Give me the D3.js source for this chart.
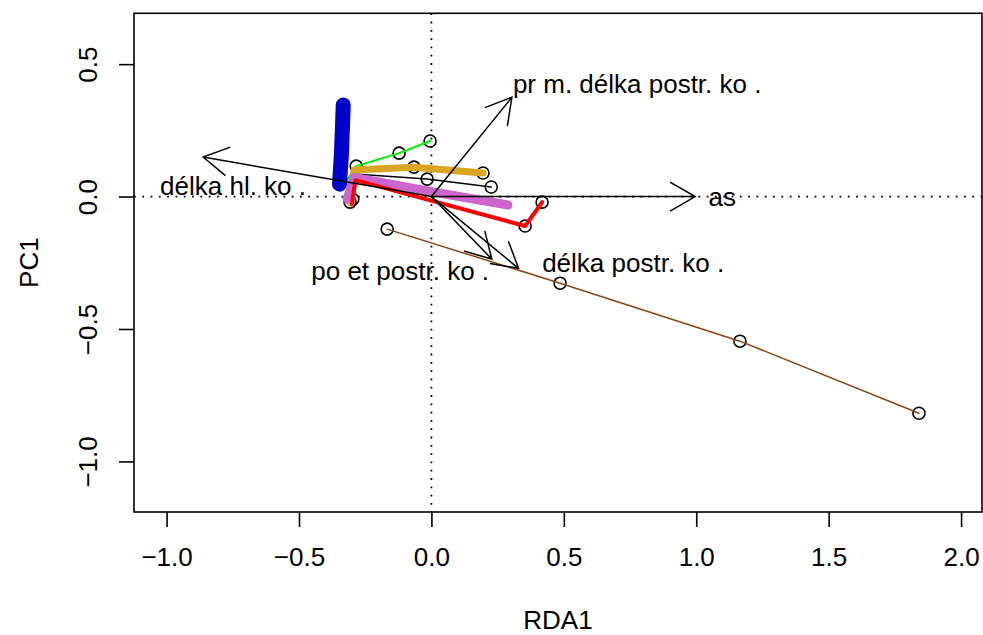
<!DOCTYPE html>
<html>
<head>
<meta charset="utf-8">
<script src="https://cdn.jsdelivr.net/npm/d3@7"></script>
<style>
  html, body { margin: 0; padding: 0; background: #fff; }
  svg { display: block; font-family: "Liberation Sans", Arial, Helvetica, sans-serif; }
</style>
</head>
<body>
<svg id="chart" width="983" height="635"></svg>
<script>
// Axis ticks
const xTicks = [-1.0, -0.5, 0.0, 0.5, 1.0, 1.5, 2.0];
const yTicks = [-1.0, -0.5, 0.0, 0.5];

// Site scores (open circles)
const sites = [
  [-0.167, -0.123], [0.486, -0.327], [1.165, -0.546], [1.841, -0.818],
  [-0.284, 0.115], [-0.122, 0.164], [-0.005, 0.210],
  [-0.066, 0.111], [0.195, 0.089],
  [-0.016, 0.066], [0.226, 0.036],
  [0.354, -0.111], [0.418, -0.021],
  [-0.307, -0.021], [-0.297, -0.010]
];

// Trajectories
const trajBrown  = [[-0.167, -0.123], [0.486, -0.327], [1.165, -0.546], [1.841, -0.818]];
const trajGreen  = [[-0.341, 0.028], [-0.284, 0.115], [-0.122, 0.164], [-0.005, 0.210]];
const trajBlack  = [[-0.307, -0.021], [-0.292, 0.085], [-0.016, 0.066], [0.226, 0.036]];
const trajGold   = [[-0.304, -0.025], [-0.292, 0.100], [-0.066, 0.111], [0.195, 0.089]];
const trajPurple = [[-0.318, -0.009], [-0.292, 0.072], [-0.005, 0.019], [0.289, -0.032]];
const trajRed    = [[-0.300, -0.028], [-0.287, 0.062], [0.354, -0.111], [0.418, -0.021]];
const trajBlue   = [[-0.333, 0.346], [-0.336, 0.259], [-0.340, 0.157], [-0.347, 0.047]];

const trajectories = [
  { pts: trajBrown,  color: "#8B4513", width: 1.5 },
  { pts: trajGreen,  color: "#00EE00", width: 2 },
  { pts: trajBlack,  color: "#000000", width: 1.5 },
  { pts: trajGold,   color: "#DAA520", width: 7 },
  { pts: trajPurple, color: "#CC66CC", width: 9 },
  { pts: trajRed,    color: "#FF0000", width: 4 },
  { pts: trajBlue,   color: "#0000CC", width: 15 }
];

// Biplot arrows (variable scores) and their label positions
const arrowNames = ["pr m. délka postr. ko .", "délka hl. ko .", "as", "po et postr. ko .", "délka postr. ko ."];
const arrowEnds  = [[0.304, 0.375], [-0.862, 0.149], [0.996, 0.0], [0.228, -0.236], [0.329, -0.271]];
const labelPos   = [[0.777, 0.425], [-0.749, 0.043], [1.098, 0.0], [-0.118, -0.281], [0.762, -0.251]];

const svg = d3.select("#chart");
const pLeft = 134, pRight = 982, pTop = 13.3, pBottom = 512;
const fs = 26;

const x = d3.scaleLinear().domain([-1.123, 2.079]).range([pLeft, pRight]);
const y = d3.scaleLinear().domain([-1.191, 0.692]).range([pBottom, pTop]);

const plot = svg.append("g");
plot.append("clipPath").attr("id", "clip")
  .append("rect").attr("x", pLeft).attr("y", pTop).attr("width", pRight - pLeft).attr("height", pBottom - pTop);
const inner = plot.append("g").attr("clip-path", "url(#clip)");

// Dotted reference lines through the origin
inner.append("line")
  .attr("x1", pLeft).attr("x2", pRight).attr("y1", y(0)).attr("y2", y(0))
  .attr("stroke", "#000").attr("stroke-width", 1.8).attr("stroke-dasharray", "1.8,6.5");
inner.append("line")
  .attr("x1", x(0)).attr("x2", x(0)).attr("y1", pTop).attr("y2", pBottom)
  .attr("stroke", "#000").attr("stroke-width", 1.8).attr("stroke-dasharray", "1.8,6.5");

// Site circles
inner.selectAll("circle.site").data(sites).enter().append("circle")
  .attr("class", "site")
  .attr("cx", d => x(d[0])).attr("cy", d => y(d[1])).attr("r", 6)
  .attr("fill", "none").attr("stroke", "#000").attr("stroke-width", 1.6);

// Trajectory lines
const line = d3.line().x(d => x(d[0])).y(d => y(d[1]));
inner.selectAll("path.traj").data(trajectories).enter().append("path")
  .attr("class", "traj")
  .attr("d", d => line(d.pts))
  .attr("fill", "none")
  .attr("stroke", d => d.color)
  .attr("stroke-width", d => d.width)
  .attr("stroke-linecap", "round")
  .attr("stroke-linejoin", "round");

// Arrows from the origin
const headLen = 29, headAng = Math.PI / 6;
arrowEnds.forEach(e => {
  const x0 = x(0), y0 = y(0), x1 = x(e[0]), y1 = y(e[1]);
  const a = Math.atan2(y1 - y0, x1 - x0);
  const p = d3.path();
  p.moveTo(x0, y0); p.lineTo(x1, y1);
  p.moveTo(x1 - headLen * Math.cos(a - headAng), y1 - headLen * Math.sin(a - headAng));
  p.lineTo(x1, y1);
  p.lineTo(x1 - headLen * Math.cos(a + headAng), y1 - headLen * Math.sin(a + headAng));
  inner.append("path").attr("d", p.toString())
    .attr("fill", "none").attr("stroke", "#000").attr("stroke-width", 1.5);
});

// Arrow labels
inner.selectAll("text.lab").data(arrowNames).enter().append("text")
  .attr("class", "lab")
  .attr("x", (d, i) => x(labelPos[i][0]))
  .attr("y", (d, i) => y(labelPos[i][1]))
  .attr("dy", "0.36em")
  .attr("text-anchor", "middle")
  .attr("font-size", fs)
  .attr("fill", "#000")
  .text(d => d);

// Frame
plot.append("rect")
  .attr("x", pLeft).attr("y", pTop).attr("width", pRight - pLeft).attr("height", pBottom - pTop)
  .attr("fill", "none").attr("stroke", "#000").attr("stroke-width", 1.6);

// Axes
const fmt = d3.format(".1f");
const gx = svg.append("g").attr("transform", `translate(0,${pBottom})`)
  .call(d3.axisBottom(x).tickValues(xTicks).tickFormat(fmt).tickSize(15).tickSizeOuter(0).tickPadding(21));
gx.select(".domain").remove();
gx.selectAll(".tick line").attr("stroke", "#000").attr("stroke-width", 1.6);
gx.selectAll(".tick text").attr("font-size", fs).attr("fill", "#000").attr("font-family", null);

const gy = svg.append("g").attr("transform", `translate(${pLeft},0)`)
  .call(d3.axisLeft(y).tickValues(yTicks).tickFormat(fmt).tickSize(15).tickSizeOuter(0));
gy.select(".domain").remove();
gy.selectAll(".tick line").attr("stroke", "#000").attr("stroke-width", 1.6);
gy.selectAll(".tick text")
  .attr("font-size", fs).attr("fill", "#000").attr("font-family", null)
  .attr("x", null).attr("dy", null).attr("y", 0)
  .attr("text-anchor", "middle")
  .attr("transform", "translate(-37,0) rotate(-90)");

// Axis titles
svg.append("text")
  .attr("x", (pLeft + pRight) / 2).attr("y", 628.5)
  .attr("text-anchor", "middle").attr("font-size", fs).text("RDA1");
svg.append("text")
  .attr("transform", `translate(38,${(pTop + pBottom) / 2}) rotate(-90)`)
  .attr("text-anchor", "middle").attr("font-size", fs).text("PC1");
</script>
</body>
</html>
